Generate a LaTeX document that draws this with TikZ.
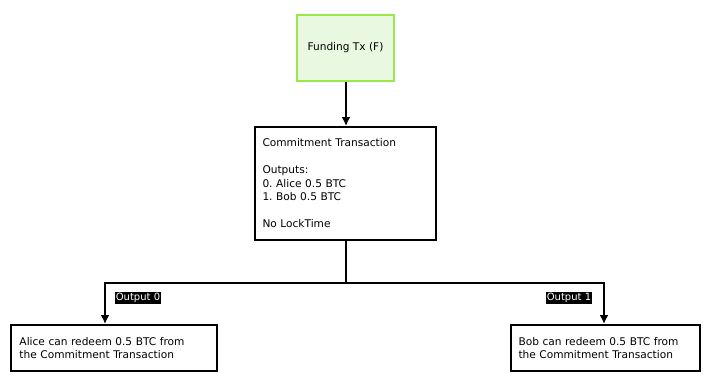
\documentclass[tikz,border=0pt]{standalone}
\usepackage{fontspec}
\setmainfont{DejaVu Sans}
\usepackage{xcolor}
\usepackage{tikz}
\usetikzlibrary{arrows.meta,positioning}

\definecolor{fundfill}{HTML}{E9F8E1}
\definecolor{funddraw}{HTML}{9BE84A}

\begin{document}
\frenchspacing
\begin{tikzpicture}[
    x=1pt, y=-1pt,
    every node/.style={font=\fontsize{10.6}{13.5}\selectfont},
    box/.style={draw=black, line width=2pt, align=left, inner xsep=7.5pt},
    fund/.style={draw=funddraw, fill=fundfill, line width=2pt,
      minimum width=97pt, minimum height=66pt, align=center},
    tag/.style={fill=black, text=white, inner xsep=1pt, inner ysep=1pt,
      font=\fontsize{10}{11}\selectfont},
    flow/.style={-{Latex[length=9pt,width=9pt]}, line width=2pt, draw=black},
    link/.style={line width=2pt, draw=black}
  ]
    \useasboundingbox (0,0) rectangle (710,384);
    \node[fund] (funding) at (345.5,48) {Funding Tx (F)};
    \node[box, minimum width=181pt, minimum height=113pt, text width=166pt]
      (commit) at (345.5,183.5)
      {Commitment Transaction\\[13.5pt]Outputs:\\0. Alice 0.5 BTC\\1. Bob 0.5 BTC\\[13.5pt]No LockTime};
    \node[box, minimum width=204pt, minimum height=46pt, text width=189pt,
      inner xsep=8.5pt] (alice) at (114,348)
      {Alice can redeem 0.5 BTC from\\the Commitment Transaction};
    \node[box, minimum width=189pt, minimum height=46pt, text width=174pt]
      (bob) at (605.5,348) {Bob can redeem 0.5 BTC from\\the Commitment Transaction};
    \coordinate (split) at (346,283);
    \node[tag] (out0) at (138,298) {Output 0};
    \node[tag] (out1) at (569,298) {Output 1};
    \draw[flow] (funding.south -| split) -- (commit.north -| split);
    \draw[link] (commit.south -| split) -- (split);
    \draw[flow] (split) -| ([xshift=-9pt]alice.north);
    \draw[flow] (split) -| ([xshift=-1.5pt]bob.north);
  \end{tikzpicture}
\end{document}
